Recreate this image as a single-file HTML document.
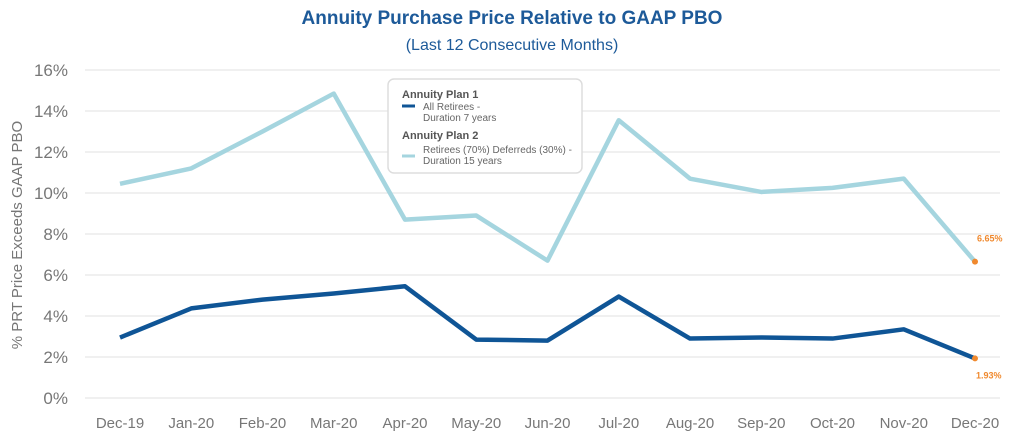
<!DOCTYPE html>
<html><head><meta charset="utf-8"><style>
body{margin:0;background:#fff;width:1024px;height:441px;overflow:hidden;font-family:"Liberation Sans",sans-serif}
</style></head><body>
<svg id="chart" width="1024" height="441" xmlns="http://www.w3.org/2000/svg">
<text x="512" y="24" text-anchor="middle" font-size="19" font-weight="bold" fill="#1d5a99">Annuity Purchase Price Relative to GAAP PBO</text>
<text x="512" y="50" text-anchor="middle" font-size="16" fill="#1d5a99">(Last 12 Consecutive Months)</text>
<text transform="translate(22,235) rotate(-90)" text-anchor="middle" font-size="15" fill="#777">% PRT Price Exceeds GAAP PBO</text>
<g id="grid"></g><g id="series"></g>
<g>
<rect x="388" y="79" width="194" height="94" rx="6" fill="#fff" stroke="#ddd" stroke-width="1.5"/>
<text x="402" y="98" font-size="11" font-weight="bold" fill="#555">Annuity Plan 1</text>
<line x1="402" x2="415" y1="106" y2="106" stroke="#0f5596" stroke-width="3"/>
<text x="423" y="110" font-size="10" fill="#666">All Retirees -</text>
<text x="423" y="121" font-size="10" fill="#666">Duration 7 years</text>
<text x="402" y="139" font-size="11" font-weight="bold" fill="#555">Annuity Plan 2</text>
<line x1="402" x2="415" y1="156" y2="156" stroke="#a5d5df" stroke-width="3"/>
<text x="423" y="153" font-size="10" fill="#666">Retirees (70%) Deferreds (30%) -</text>
<text x="423" y="164" font-size="10" fill="#666">Duration 15 years</text>
</g>
</svg>
<script>
const categories=["Dec-19","Jan-20","Feb-20","Mar-20","Apr-20","May-20","Jun-20","Jul-20","Aug-20","Sep-20","Oct-20","Nov-20","Dec-20"];
const plan2=[10.45,11.2,13.0,14.85,8.7,8.9,6.7,13.55,10.7,10.05,10.25,10.7,6.65];
const plan1=[2.95,4.37,4.8,5.1,5.45,2.85,2.8,4.95,2.9,2.95,2.9,3.35,1.93];
const yTicks=[0,2,4,6,8,10,12,14,16];
const NS="http://www.w3.org/2000/svg";
const x=i=>120+i*(975-120)/(categories.length-1);
const y=v=>398-v*(398-70)/16;
function mk(tag,attrs,parent){const e=document.createElementNS(NS,tag);for(const k in attrs)e.setAttribute(k,attrs[k]);parent.appendChild(e);return e;}
const grid=document.getElementById('grid'),ser=document.getElementById('series');
yTicks.forEach(t=>{
 const l=mk('line',{x1:85,x2:1000,y1:y(t),y2:y(t),stroke:'#e6e6e6','stroke-width':1.3},grid);
 
 
 const tx=mk('text',{x:68,y:y(t)+6,'text-anchor':'end','font-size':17,fill:'#777'},grid);
 tx.textContent=t+'%';
 
 
});
categories.forEach((c,i)=>{
 const tx=mk('text',{x:x(i),y:428,'text-anchor':'middle','font-size':15,fill:'#777'},grid);
 tx.textContent=c;
 
 
});
function line(data,color,name){
 const p=mk('polyline',{points:data.map((v,i)=>x(i)+','+y(v)).join(' '),fill:'none',stroke:color,'stroke-width':4.5,'stroke-linejoin':'round'},ser);
 
 
 const n=data.length-1;
 const d=mk('circle',{cx:x(n),cy:y(data[n]),r:3,fill:'#f0892e'},ser);
 
 
 return n;
}
const n2=line(plan2,'#a5d5df','plan2-line');
const n1=line(plan1,'#0f5596','plan1-line');
const l2=mk('text',{x:x(n2)+2,y:y(plan2[n2])-20,'font-size':9,'font-weight':'bold',fill:'#f0892e'},ser);
l2.textContent=plan2[n2].toFixed(2)+'%';


const l1=mk('text',{x:x(n1)+1,y:y(plan1[n1])+20,'font-size':9,'font-weight':'bold',fill:'#f0892e'},ser);
l1.textContent=plan1[n1].toFixed(2)+'%';


</script>
</body></html>
